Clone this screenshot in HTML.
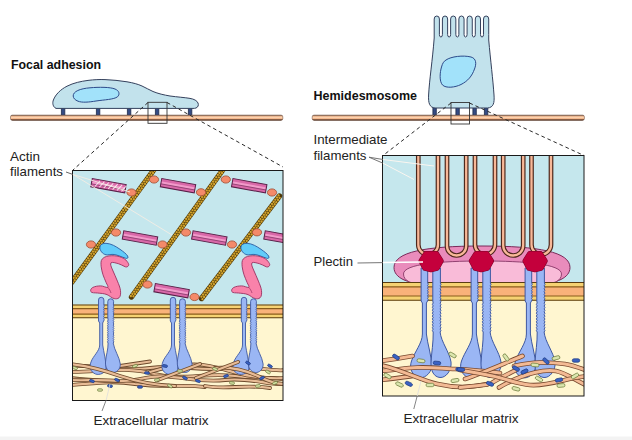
<!DOCTYPE html>
<html><head><meta charset="utf-8"><title>Focal adhesion / Hemidesmosome</title>
<style>
html,body{margin:0;padding:0;background:#fff;}
body{width:632px;height:440px;overflow:hidden;}
svg{display:block;}
text{font-family:"Liberation Sans",sans-serif;font-size:13px;fill:#222;}
.b{font-weight:bold;fill:#111;}
</style></head><body>
<svg width="632" height="440" viewBox="0 0 632 440">
<rect width="632" height="440" fill="#fff"/>
<defs>
<linearGradient id="bg" x1="0" y1="0" x2="0" y2="1">
<stop offset="0" stop-color="#8a766a"/><stop offset="0.2" stop-color="#e8ae88"/><stop offset="0.45" stop-color="#fbd2ae"/><stop offset="0.72" stop-color="#f2ae82"/><stop offset="0.86" stop-color="#6e4836"/><stop offset="1" stop-color="#563626"/>
</linearGradient>
<clipPath id="cl"><rect x="73" y="170" width="210" height="230"/></clipPath>
<clipPath id="cr"><rect x="383" y="156" width="201" height="240"/></clipPath>
</defs>

<g id="topleft">
<rect x="61.4" y="106.5" width="3.4" height="10" rx="1.2" fill="#354c84" stroke="#1c2848" stroke-width="0.8"/>
<rect x="96.4" y="106.5" width="3.4" height="10" rx="1.2" fill="#354c84" stroke="#1c2848" stroke-width="0.8"/>
<rect x="127.4" y="106.5" width="3.4" height="10" rx="1.2" fill="#354c84" stroke="#1c2848" stroke-width="0.8"/>
<rect x="155.4" y="106.5" width="3.4" height="10" rx="1.2" fill="#354c84" stroke="#1c2848" stroke-width="0.8"/>
<rect x="188.4" y="106.5" width="3.4" height="10" rx="1.2" fill="#354c84" stroke="#1c2848" stroke-width="0.8"/>
<rect x="10.5" y="115.1" width="272.3" height="5.3" rx="1.8" fill="url(#bg)" stroke="#5a3a2a" stroke-width="0.5"/>
<path d="M56,108.4 C52.8,106.8 52.2,103 53.4,100 C55.5,94.5 60.5,89.5 67,86.2 C73.5,82.9 81,81.3 88,80.4 C94,79.6 100,79.4 105,79.6 C112,79.9 120,80.6 127,81.8 C133,82.8 138,84.2 142,86 C146,87.8 149,89.8 153,91.5 C158,93.6 164,95 170,96 C177,97 185,97.5 190,98.4 C194,99.1 197,100.6 198,103 C198.9,105.2 198,107.2 196,108 C195,108.4 194,108.4 193,108.4 Z" fill="#c2e2ec" stroke="#34405c" stroke-width="1"/>
<path d="M73.2,96 C73,91.5 80,88.6 90,87.8 C99,87 110,87 115,89 C119.5,90.8 120,94.5 117.5,96.8 C114,99.5 104,99.8 96,101 C89,102.2 82,102.8 78,101.2 C75,100 73.3,98.2 73.2,96 Z" fill="#a2e2fa" stroke="#2c4a8a" stroke-width="1"/>
<rect x="148" y="102.3" width="19" height="21" fill="none" stroke="#333" stroke-width="0.9"/>
<path d="M148,102.5 L73,170 M167,102.5 L283,167" fill="none" stroke="#2a2a2a" stroke-width="1" stroke-dasharray="3.6 3"/>
</g>
<g id="topright">
<rect x="432.9" y="106" width="3.4" height="10.5" rx="1.2" fill="#354c84" stroke="#1c2848" stroke-width="0.8"/>
<rect x="455.9" y="106" width="3.4" height="10.5" rx="1.2" fill="#354c84" stroke="#1c2848" stroke-width="0.8"/>
<rect x="472.9" y="106" width="3.4" height="10.5" rx="1.2" fill="#354c84" stroke="#1c2848" stroke-width="0.8"/>
<rect x="484.4" y="106" width="3.4" height="10.5" rx="1.2" fill="#354c84" stroke="#1c2848" stroke-width="0.8"/>
<rect x="312.2" y="115.1" width="272.2" height="5.3" rx="1.8" fill="url(#bg)" stroke="#5a3a2a" stroke-width="0.5"/>
<path d="M434.20,38 L434.20,19 Q434.20,16 436.80,16 Q439.40,16 439.40,19 L439.40,34.5 Q439.40,37 440.91,37 Q442.42,37 442.42,34.5 L442.42,19 Q442.42,16 445.02,16 Q447.62,16 447.62,19 L447.62,34.5 Q447.62,37 449.13,37 Q450.64,37 450.64,34.5 L450.64,19 Q450.64,16 453.24,16 Q455.84,16 455.84,19 L455.84,34.5 Q455.84,37 457.35,37 Q458.86,37 458.86,34.5 L458.86,19 Q458.86,16 461.46,16 Q464.06,16 464.06,19 L464.06,34.5 Q464.06,37 465.57,37 Q467.08,37 467.08,34.5 L467.08,19 Q467.08,16 469.68,16 Q472.28,16 472.28,19 L472.28,34.5 Q472.28,37 473.79,37 Q475.30,37 475.30,34.5 L475.30,19 Q475.30,16 477.90,16 Q480.50,16 480.50,19 L480.50,34.5 Q480.50,37 482.01,37 Q483.52,37 483.52,34.5 L483.52,19 Q483.52,16 486.12,16 Q488.72,16 488.72,19 L488.72,34.5 L488.72,40 C490.5,60 493,80 494,95 C494.6,103 493.5,107.5 487.5,108 L435,108 C429.5,107.5 428.2,103 428.6,95 C429.4,80 432.5,60 434.20,38 Z" fill="#c2e2ec" stroke="#34405c" stroke-width="1"/>
<path d="M446,60 C451,56.5 463,55 471,57 C476.5,58.5 476.5,64 474.5,69 C472,76 468,81 461,84.5 C455,87.5 446,88.5 442.5,85 C439,81 440,72 441.5,67 C442.5,63.5 443.5,61.5 446,60 Z" fill="#a2e2fa" stroke="#2c4a8a" stroke-width="1"/>
<rect x="451" y="102.5" width="18.5" height="21.5" fill="none" stroke="#333" stroke-width="0.9"/>
<path d="M451,103 L383,155.5 M469.5,103 L584,155.5" fill="none" stroke="#2a2a2a" stroke-width="1" stroke-dasharray="3.6 3"/>
</g>
<g id="leftpanel">
<rect x="73" y="170" width="210" height="230" fill="#fff6d0"/>
<rect x="73" y="170" width="210" height="137" fill="#c5e7ed"/>
<g clip-path="url(#cl)">
<line x1="154.5" y1="169" x2="72" y2="282" stroke="#503808" stroke-width="5.4" stroke-linecap="round"/>
<line x1="153.57" y1="168.32" x2="71.07" y2="281.32" stroke="#d2a42e" stroke-width="2.25" stroke-dasharray="0.01 2.7" stroke-dashoffset="0" stroke-linecap="round"/>
<line x1="155.43" y1="169.68" x2="72.93" y2="282.68" stroke="#d2a42e" stroke-width="2.25" stroke-dasharray="0.01 2.7" stroke-dashoffset="1.35" stroke-linecap="round"/>
<line x1="223.5" y1="169" x2="131.5" y2="297" stroke="#503808" stroke-width="5.4" stroke-linecap="round"/>
<line x1="222.57" y1="168.33" x2="130.57" y2="296.33" stroke="#d2a42e" stroke-width="2.25" stroke-dasharray="0.01 2.7" stroke-dashoffset="0" stroke-linecap="round"/>
<line x1="224.43" y1="169.67" x2="132.43" y2="297.67" stroke="#d2a42e" stroke-width="2.25" stroke-dasharray="0.01 2.7" stroke-dashoffset="1.35" stroke-linecap="round"/>
<line x1="279.5" y1="196" x2="201.5" y2="298.5" stroke="#503808" stroke-width="5.4" stroke-linecap="round"/>
<line x1="278.58" y1="195.30" x2="200.58" y2="297.80" stroke="#d2a42e" stroke-width="2.25" stroke-dasharray="0.01 2.7" stroke-dashoffset="0" stroke-linecap="round"/>
<line x1="280.42" y1="196.70" x2="202.42" y2="299.20" stroke="#d2a42e" stroke-width="2.25" stroke-dasharray="0.01 2.7" stroke-dashoffset="1.35" stroke-linecap="round"/>
<g transform="rotate(10.3 108.5 185.7)">
<rect x="91.25" y="181.5" width="34.5" height="8.4" fill="#d868a8" stroke="#5a2048" stroke-width="1"/>
<rect x="92.05" y="184.39999999999998" width="32.9" height="2.2" fill="#f29aca"/>
<line x1="91.25" y1="186.89999999999998" x2="125.75" y2="186.89999999999998" stroke="#5a2048" stroke-width="0.5"/>
<line x1="95.25" y1="188.89999999999998" x2="99.25" y2="182.5" stroke="#fff" stroke-width="1" opacity="0.8"/>
<line x1="99.75" y1="188.89999999999998" x2="103.75" y2="182.5" stroke="#fff" stroke-width="1" opacity="0.8"/>
<line x1="104.25" y1="188.89999999999998" x2="108.25" y2="182.5" stroke="#fff" stroke-width="1" opacity="0.8"/>
<line x1="108.75" y1="188.89999999999998" x2="112.75" y2="182.5" stroke="#fff" stroke-width="1" opacity="0.8"/>
<line x1="113.25" y1="188.89999999999998" x2="117.25" y2="182.5" stroke="#fff" stroke-width="1" opacity="0.8"/>
<line x1="117.75" y1="188.89999999999998" x2="121.75" y2="182.5" stroke="#fff" stroke-width="1" opacity="0.8"/>
<line x1="122.25" y1="188.89999999999998" x2="126.25" y2="182.5" stroke="#fff" stroke-width="1" opacity="0.8"/>
</g>
<ellipse cx="131.5" cy="192.5" rx="4.6" ry="3.6" fill="#f48a6a" stroke="#a04a30" stroke-width="0.8"/>
<ellipse cx="154" cy="179.5" rx="4.6" ry="3.6" fill="#f48a6a" stroke="#a04a30" stroke-width="0.8"/>
<g transform="rotate(10.3 178 185.7)">
<rect x="160.75" y="181.5" width="34.5" height="8.4" fill="#d868a8" stroke="#5a2048" stroke-width="1"/>
<rect x="161.55" y="184.39999999999998" width="32.9" height="2.2" fill="#f29aca"/>
<line x1="160.75" y1="186.89999999999998" x2="195.25" y2="186.89999999999998" stroke="#5a2048" stroke-width="0.5"/>
</g>
<ellipse cx="201" cy="192.3" rx="4.6" ry="3.6" fill="#f48a6a" stroke="#a04a30" stroke-width="0.8"/>
<ellipse cx="225.8" cy="179.5" rx="4.6" ry="3.6" fill="#f48a6a" stroke="#a04a30" stroke-width="0.8"/>
<g transform="rotate(10.3 249.2 185.7)">
<rect x="231.95" y="181.5" width="34.5" height="8.4" fill="#d868a8" stroke="#5a2048" stroke-width="1"/>
<rect x="232.75" y="184.39999999999998" width="32.9" height="2.2" fill="#f29aca"/>
<line x1="231.95" y1="186.89999999999998" x2="266.45" y2="186.89999999999998" stroke="#5a2048" stroke-width="0.5"/>
</g>
<ellipse cx="272" cy="192.5" rx="4.6" ry="3.6" fill="#f48a6a" stroke="#a04a30" stroke-width="0.8"/>
<ellipse cx="91" cy="244.5" rx="4.6" ry="3.6" fill="#f48a6a" stroke="#a04a30" stroke-width="0.8"/>
<ellipse cx="116" cy="232.5" rx="4.6" ry="3.6" fill="#f48a6a" stroke="#a04a30" stroke-width="0.8"/>
<g transform="rotate(10.3 140 238)">
<rect x="122.75" y="233.8" width="34.5" height="8.4" fill="#d868a8" stroke="#5a2048" stroke-width="1"/>
<rect x="123.55" y="236.7" width="32.9" height="2.2" fill="#f29aca"/>
<line x1="122.75" y1="239.2" x2="157.25" y2="239.2" stroke="#5a2048" stroke-width="0.5"/>
</g>
<ellipse cx="162.5" cy="244.5" rx="4.6" ry="3.6" fill="#f48a6a" stroke="#a04a30" stroke-width="0.8"/>
<ellipse cx="186" cy="232.5" rx="4.6" ry="3.6" fill="#f48a6a" stroke="#a04a30" stroke-width="0.8"/>
<g transform="rotate(10.3 209.3 238)">
<rect x="192.05" y="233.8" width="34.5" height="8.4" fill="#d868a8" stroke="#5a2048" stroke-width="1"/>
<rect x="192.85000000000002" y="236.7" width="32.9" height="2.2" fill="#f29aca"/>
<line x1="192.05" y1="239.2" x2="226.55" y2="239.2" stroke="#5a2048" stroke-width="0.5"/>
</g>
<ellipse cx="232" cy="244.5" rx="4.6" ry="3.6" fill="#f48a6a" stroke="#a04a30" stroke-width="0.8"/>
<ellipse cx="257" cy="232.3" rx="4.6" ry="3.6" fill="#f48a6a" stroke="#a04a30" stroke-width="0.8"/>
<g transform="rotate(10.3 281.5 238)">
<rect x="264.25" y="233.8" width="34.5" height="8.4" fill="#d868a8" stroke="#5a2048" stroke-width="1"/>
<rect x="265.05" y="236.7" width="32.9" height="2.2" fill="#f29aca"/>
<line x1="264.25" y1="239.2" x2="298.75" y2="239.2" stroke="#5a2048" stroke-width="0.5"/>
</g>
<ellipse cx="147.5" cy="284.5" rx="4.6" ry="3.6" fill="#f48a6a" stroke="#a04a30" stroke-width="0.8"/>
<g transform="rotate(10.3 171.6 290.7)">
<rect x="154.35" y="286.5" width="34.5" height="8.4" fill="#d868a8" stroke="#5a2048" stroke-width="1"/>
<rect x="155.15" y="289.4" width="32.9" height="2.2" fill="#f29aca"/>
<line x1="154.35" y1="291.9" x2="188.85" y2="291.9" stroke="#5a2048" stroke-width="0.5"/>
</g>
<ellipse cx="194.5" cy="297" rx="4.6" ry="3.6" fill="#f48a6a" stroke="#a04a30" stroke-width="0.8"/>
<path transform="translate(0 0)" d="M99.9,247 C100.2,244.3 103,243.2 106,243.3 C111,243.5 116,246.5 120,249.3 C123.5,251.8 126.5,254 127.6,256 C128.6,258 127.5,258.8 125.5,258.2 C121,256.8 117,254.6 113,254.4 C110,254.3 108,255.2 106,254.8 C102.5,254 99.6,250.5 99.9,247 Z" fill="#62ccfa" stroke="#2a5aa0" stroke-width="0.9"/>
<path transform="translate(0 0)" d="M102.3,258.9 C104.5,256.5 108,255.8 111.8,255.7 C115.5,255.6 118.5,256.2 121.3,257.3 C124,258.4 125.8,259.6 126.9,261.2 C128.2,263 129.2,264.3 128.5,265.6 C127.8,266.9 126.5,267.2 125.3,266.8 C122.8,265.9 120.8,264.2 118.2,263.6 C115.5,263 112.5,261.8 111,262.8 C109.8,263.8 111.5,267.5 112.6,270 C114.2,273.8 116,277.5 117.4,281.1 C118.7,284.4 120.2,287.5 120.5,290.7 C120.8,293.6 120.6,296.4 119,297.8 C117.6,299 115.8,298.9 114.2,298.6 C111.5,298 109.5,295.6 107,294.6 C104,293.4 100.5,293.4 97.5,293 C95,292.7 91.5,293.2 90.8,291.5 C90.2,290 91.2,288.3 92.7,287.5 C95,286.3 98,285.9 100.7,285.9 C103.2,285.9 105.8,287.6 107.8,287.5 C108.5,286.2 106.9,284.5 106.2,282.7 C105.2,280 103.8,277.4 103,274.8 C102.2,272.2 101.5,269.5 101.2,266.8 C100.9,264 100.6,260.8 102.3,258.9 Z" fill="#f982aa" stroke="#9a3060" stroke-width="0.9"/>
<path transform="translate(0 0)" d="M107.8,287.5 C109.2,288.8 110.4,291 111,293" fill="none" stroke="#9a3060" stroke-width="0.7"/>
<path transform="translate(141 0)" d="M99.9,247 C100.2,244.3 103,243.2 106,243.3 C111,243.5 116,246.5 120,249.3 C123.5,251.8 126.5,254 127.6,256 C128.6,258 127.5,258.8 125.5,258.2 C121,256.8 117,254.6 113,254.4 C110,254.3 108,255.2 106,254.8 C102.5,254 99.6,250.5 99.9,247 Z" fill="#62ccfa" stroke="#2a5aa0" stroke-width="0.9"/>
<path transform="translate(141 0)" d="M102.3,258.9 C104.5,256.5 108,255.8 111.8,255.7 C115.5,255.6 118.5,256.2 121.3,257.3 C124,258.4 125.8,259.6 126.9,261.2 C128.2,263 129.2,264.3 128.5,265.6 C127.8,266.9 126.5,267.2 125.3,266.8 C122.8,265.9 120.8,264.2 118.2,263.6 C115.5,263 112.5,261.8 111,262.8 C109.8,263.8 111.5,267.5 112.6,270 C114.2,273.8 116,277.5 117.4,281.1 C118.7,284.4 120.2,287.5 120.5,290.7 C120.8,293.6 120.6,296.4 119,297.8 C117.6,299 115.8,298.9 114.2,298.6 C111.5,298 109.5,295.6 107,294.6 C104,293.4 100.5,293.4 97.5,293 C95,292.7 91.5,293.2 90.8,291.5 C90.2,290 91.2,288.3 92.7,287.5 C95,286.3 98,285.9 100.7,285.9 C103.2,285.9 105.8,287.6 107.8,287.5 C108.5,286.2 106.9,284.5 106.2,282.7 C105.2,280 103.8,277.4 103,274.8 C102.2,272.2 101.5,269.5 101.2,266.8 C100.9,264 100.6,260.8 102.3,258.9 Z" fill="#f982aa" stroke="#9a3060" stroke-width="0.9"/>
<path transform="translate(141 0)" d="M107.8,287.5 C109.2,288.8 110.4,291 111,293" fill="none" stroke="#9a3060" stroke-width="0.7"/>
<rect x="73" y="304.7" width="210" height="13.300000000000011" fill="#f6d272"/>
<rect x="73" y="308.59999999999997" width="210" height="5.5000000000000115" fill="#f9b27a"/>
<line x1="73" y1="305.0" x2="283" y2="305.0" stroke="#5a3c12" stroke-width="1.1"/>
<line x1="73" y1="317.7" x2="283" y2="317.7" stroke="#5a3c12" stroke-width="1.1"/>
<line x1="73" y1="308.59999999999997" x2="283" y2="308.59999999999997" stroke="#8a5c1a" stroke-width="1.2"/>
<line x1="73" y1="314.1" x2="283" y2="314.1" stroke="#8a5c1a" stroke-width="1.2"/>
<path d="M70,366 C95,364 120,372 150,368 C180,364 200,372 230,368 C250,365 270,372 286,370" fill="none" stroke="#6e4a2c" stroke-width="3.8000000000000003" stroke-linecap="round"/>
<path d="M70,366 C95,364 120,372 150,368 C180,364 200,372 230,368 C250,365 270,372 286,370" fill="none" stroke="#e8bc96" stroke-width="2.2" stroke-linecap="round"/>
<path d="M70,372 C100,372 125,366 155,374 C185,381 205,372 235,376 C255,379 270,376 286,380" fill="none" stroke="#6e4a2c" stroke-width="3.8000000000000003" stroke-linecap="round"/>
<path d="M70,372 C100,372 125,366 155,374 C185,381 205,372 235,376 C255,379 270,376 286,380" fill="none" stroke="#e8bc96" stroke-width="2.2" stroke-linecap="round"/>
<path d="M70,385 C90,384 110,380 135,384 C165,388 185,384 205,387" fill="none" stroke="#6e4a2c" stroke-width="3.8000000000000003" stroke-linecap="round"/>
<path d="M70,385 C90,384 110,380 135,384 C165,388 185,384 205,387" fill="none" stroke="#e8bc96" stroke-width="2.2" stroke-linecap="round"/>
<path d="M150,372 C170,366 190,362 210,366 C230,370 250,380 286,378" fill="none" stroke="#6e4a2c" stroke-width="3.8000000000000003" stroke-linecap="round"/>
<path d="M150,372 C170,366 190,362 210,366 C230,370 250,380 286,378" fill="none" stroke="#e8bc96" stroke-width="2.2" stroke-linecap="round"/>
<path d="M120,366 L150,361.5" fill="none" stroke="#6e4a2c" stroke-width="3.8000000000000003" stroke-linecap="round"/>
<path d="M120,366 L150,361.5" fill="none" stroke="#e8bc96" stroke-width="2.2" stroke-linecap="round"/>
<path d="M205,386 C225,390 245,384 270,388" fill="none" stroke="#6e4a2c" stroke-width="3.8000000000000003" stroke-linecap="round"/>
<path d="M205,386 C225,390 245,384 270,388" fill="none" stroke="#e8bc96" stroke-width="2.2" stroke-linecap="round"/>
<path d="M70,378 C95,380 120,384 145,378 C170,372 195,384 225,380 C250,377 270,386 286,384" fill="none" stroke="#6e4a2c" stroke-width="3.8000000000000003" stroke-linecap="round"/>
<path d="M70,378 C95,380 120,384 145,378 C170,372 195,384 225,380 C250,377 270,386 286,384" fill="none" stroke="#e8bc96" stroke-width="2.2" stroke-linecap="round"/>
<path d="M98.5,300 Q98.5,297.3 101.2,297.3 Q103.9,297.3 103.9,300 L103.9,305 Q105.00,306.14 103.60,307.29 Q105.00,308.43 103.60,309.57 Q105.00,310.71 103.60,311.86 Q105.00,313.00 103.60,314.14 Q105.00,315.29 103.60,316.43 Q105.00,317.57 103.60,318.71 Q105.00,319.86 103.60,321.00 L102.7,323 L102.7,345 C103.7,352 106.3,362 106.1,368 C105.8,373 99.5,375.5 95.5,374 C90.5,372 89.0,367 91.0,362 C93.0,356 99.7,351 99.7,345 L99.7,323 L98.5,321 Z" fill="#9ab6f4" stroke="#3e58a2" stroke-width="0.9"/>
<path d="M107.8,301.5 Q107.8,298.8 110.7,298.8 Q113.60000000000001,298.8 113.60000000000001,301.5 L113.4,305 Q114.60,306.12 113.20,307.24 Q114.60,308.35 113.20,309.47 Q114.60,310.59 113.20,311.71 Q114.60,312.82 113.20,313.94 Q114.60,315.06 113.20,316.18 Q114.60,317.29 113.20,318.41 Q114.60,319.53 113.20,320.65 Q114.60,321.76 113.20,322.88 Q114.60,324.00 113.20,325.12 Q114.60,326.24 113.20,327.35 Q114.60,328.47 113.20,329.59 Q114.60,330.71 113.20,331.82 Q114.60,332.94 113.20,334.06 Q114.60,335.18 113.20,336.29 Q114.60,337.41 113.20,338.53 Q114.60,339.65 113.20,340.76 Q114.60,341.88 113.20,343.00 C114.2,350 119.5,357 120.3,364 C120.7,369 116.5,373 112.5,372.5 C108.0,372 105.2,368 105.5,362 C106.0,355 108.2,350 108.10000000000001,343 Q106.80,341.85 108.20,340.70 Q106.80,339.55 108.20,338.40 Q106.80,337.25 108.20,336.10 Q106.80,334.95 108.20,333.80 Q106.80,332.65 108.20,331.50 Q106.80,330.35 108.20,329.20 Q106.80,328.05 108.20,326.90 Q106.80,325.75 108.20,324.60 Q106.80,323.45 108.20,322.30 Q106.80,321.15 108.20,320.00 L107.8,318 Z" fill="#9ab6f4" stroke="#3e58a2" stroke-width="0.9"/>
<path d="M170.3,300 Q170.3,297.3 173.0,297.3 Q175.7,297.3 175.7,300 L175.7,305 Q176.80,306.14 175.40,307.29 Q176.80,308.43 175.40,309.57 Q176.80,310.71 175.40,311.86 Q176.80,313.00 175.40,314.14 Q176.80,315.29 175.40,316.43 Q176.80,317.57 175.40,318.71 Q176.80,319.86 175.40,321.00 L174.5,323 L174.5,345 C175.5,352 178.10000000000002,362 177.9,368 C177.60000000000002,373 171.3,375.5 167.3,374 C162.3,372 160.8,367 162.8,362 C164.8,356 171.5,351 171.5,345 L171.5,323 L170.3,321 Z" fill="#9ab6f4" stroke="#3e58a2" stroke-width="0.9"/>
<path d="M179.6,301.5 Q179.6,298.8 182.5,298.8 Q185.4,298.8 185.4,301.5 L185.2,305 Q186.40,306.12 185.00,307.24 Q186.40,308.35 185.00,309.47 Q186.40,310.59 185.00,311.71 Q186.40,312.82 185.00,313.94 Q186.40,315.06 185.00,316.18 Q186.40,317.29 185.00,318.41 Q186.40,319.53 185.00,320.65 Q186.40,321.76 185.00,322.88 Q186.40,324.00 185.00,325.12 Q186.40,326.24 185.00,327.35 Q186.40,328.47 185.00,329.59 Q186.40,330.71 185.00,331.82 Q186.40,332.94 185.00,334.06 Q186.40,335.18 185.00,336.29 Q186.40,337.41 185.00,338.53 Q186.40,339.65 185.00,340.76 Q186.40,341.88 185.00,343.00 C186.0,350 191.3,357 192.10000000000002,364 C192.5,369 188.3,373 184.3,372.5 C179.8,372 177.0,368 177.3,362 C177.8,355 180.0,350 179.9,343 Q178.60,341.85 180.00,340.70 Q178.60,339.55 180.00,338.40 Q178.60,337.25 180.00,336.10 Q178.60,334.95 180.00,333.80 Q178.60,332.65 180.00,331.50 Q178.60,330.35 180.00,329.20 Q178.60,328.05 180.00,326.90 Q178.60,325.75 180.00,324.60 Q178.60,323.45 180.00,322.30 Q178.60,321.15 180.00,320.00 L179.6,318 Z" fill="#9ab6f4" stroke="#3e58a2" stroke-width="0.9"/>
<path d="M241.3,300 Q241.3,297.3 244.0,297.3 Q246.7,297.3 246.7,300 L246.7,305 Q247.80,306.14 246.40,307.29 Q247.80,308.43 246.40,309.57 Q247.80,310.71 246.40,311.86 Q247.80,313.00 246.40,314.14 Q247.80,315.29 246.40,316.43 Q247.80,317.57 246.40,318.71 Q247.80,319.86 246.40,321.00 L245.5,323 L245.5,345 C246.5,352 249.10000000000002,362 248.9,368 C248.60000000000002,373 242.3,375.5 238.3,374 C233.3,372 231.8,367 233.8,362 C235.8,356 242.5,351 242.5,345 L242.5,323 L241.3,321 Z" fill="#9ab6f4" stroke="#3e58a2" stroke-width="0.9"/>
<path d="M250.6,301.5 Q250.6,298.8 253.5,298.8 Q256.4,298.8 256.4,301.5 L256.2,305 Q257.40,306.12 256.00,307.24 Q257.40,308.35 256.00,309.47 Q257.40,310.59 256.00,311.71 Q257.40,312.82 256.00,313.94 Q257.40,315.06 256.00,316.18 Q257.40,317.29 256.00,318.41 Q257.40,319.53 256.00,320.65 Q257.40,321.76 256.00,322.88 Q257.40,324.00 256.00,325.12 Q257.40,326.24 256.00,327.35 Q257.40,328.47 256.00,329.59 Q257.40,330.71 256.00,331.82 Q257.40,332.94 256.00,334.06 Q257.40,335.18 256.00,336.29 Q257.40,337.41 256.00,338.53 Q257.40,339.65 256.00,340.76 Q257.40,341.88 256.00,343.00 C257.0,350 262.3,357 263.1,364 C263.5,369 259.3,373 255.3,372.5 C250.8,372 248.0,368 248.3,362 C248.8,355 251.0,350 250.9,343 Q249.60,341.85 251.00,340.70 Q249.60,339.55 251.00,338.40 Q249.60,337.25 251.00,336.10 Q249.60,334.95 251.00,333.80 Q249.60,332.65 251.00,331.50 Q249.60,330.35 251.00,329.20 Q249.60,328.05 251.00,326.90 Q249.60,325.75 251.00,324.60 Q249.60,323.45 251.00,322.30 Q249.60,321.15 251.00,320.00 L250.6,318 Z" fill="#9ab6f4" stroke="#3e58a2" stroke-width="0.9"/>
<path d="M70,364 C90,366 105,371 120,376 C135,381 150,385 175,386" fill="none" stroke="#6e4a2c" stroke-width="3.8000000000000003" stroke-linecap="round"/>
<path d="M70,364 C90,366 105,371 120,376 C135,381 150,385 175,386" fill="none" stroke="#e8bc96" stroke-width="2.2" stroke-linecap="round"/>
<path d="M158,380 L200,364" fill="none" stroke="#6e4a2c" stroke-width="3.8000000000000003" stroke-linecap="round"/>
<path d="M158,380 L200,364" fill="none" stroke="#e8bc96" stroke-width="2.2" stroke-linecap="round"/>
<path d="M215,368 C235,366 250,372 262,378 C270,382 278,384 286,384" fill="none" stroke="#6e4a2c" stroke-width="3.8000000000000003" stroke-linecap="round"/>
<path d="M215,368 C235,366 250,372 262,378 C270,382 278,384 286,384" fill="none" stroke="#e8bc96" stroke-width="2.2" stroke-linecap="round"/>
<path d="M196,378 L238,362" fill="none" stroke="#6e4a2c" stroke-width="3.8000000000000003" stroke-linecap="round"/>
<path d="M196,378 L238,362" fill="none" stroke="#e8bc96" stroke-width="2.2" stroke-linecap="round"/>
<path d="M70,380 C85,381 100,379 118,381" fill="none" stroke="#6e4a2c" stroke-width="3.8000000000000003" stroke-linecap="round"/>
<path d="M70,380 C85,381 100,379 118,381" fill="none" stroke="#e8bc96" stroke-width="2.2" stroke-linecap="round"/>
<rect x="89.5" y="379.8" width="5" height="2.4" rx="1.2" transform="rotate(20 92 381)" fill="#3a62c4" stroke="#1e3a80" stroke-width="0.7"/>
<rect x="114.5" y="378.8" width="5" height="2.4" rx="1.2" transform="rotate(25 117 380)" fill="#3a62c4" stroke="#1e3a80" stroke-width="0.7"/>
<rect x="144.5" y="371.8" width="5" height="2.4" rx="1.2" transform="rotate(5 147 373)" fill="#3a62c4" stroke="#1e3a80" stroke-width="0.7"/>
<rect x="162.5" y="364.8" width="5" height="2.4" rx="1.2" transform="rotate(10 165 366)" fill="#3a62c4" stroke="#1e3a80" stroke-width="0.7"/>
<rect x="182.5" y="376.8" width="5" height="2.4" rx="1.2" transform="rotate(30 185 378)" fill="#3a62c4" stroke="#1e3a80" stroke-width="0.7"/>
<rect x="195.5" y="379.8" width="5" height="2.4" rx="1.2" transform="rotate(20 198 381)" fill="#3a62c4" stroke="#1e3a80" stroke-width="0.7"/>
<rect x="223.5" y="374.8" width="5" height="2.4" rx="1.2" transform="rotate(-20 226 376)" fill="#3a62c4" stroke="#1e3a80" stroke-width="0.7"/>
<rect x="245.5" y="361.8" width="5" height="2.4" rx="1.2" transform="rotate(30 248 363)" fill="#3a62c4" stroke="#1e3a80" stroke-width="0.7"/>
<rect x="259.5" y="376.8" width="5" height="2.4" rx="1.2" transform="rotate(-25 262 378)" fill="#3a62c4" stroke="#1e3a80" stroke-width="0.7"/>
<rect x="267.5" y="364.8" width="5" height="2.4" rx="1.2" transform="rotate(30 270 366)" fill="#3a62c4" stroke="#1e3a80" stroke-width="0.7"/>
<rect x="107.5" y="384.8" width="5" height="2.4" rx="1.2" transform="rotate(10 110 386)" fill="#3a62c4" stroke="#1e3a80" stroke-width="0.7"/>
<rect x="137.5" y="385.8" width="5" height="2.4" rx="1.2" transform="rotate(0 140 387)" fill="#3a62c4" stroke="#1e3a80" stroke-width="0.7"/>
<rect x="72.5" y="366.8" width="5" height="2.4" rx="1.2" transform="rotate(20 75 368)" fill="#d4e0a4" stroke="#6a7a3a" stroke-width="0.7"/>
<rect x="132.5" y="364.8" width="5" height="2.4" rx="1.2" transform="rotate(-20 135 366)" fill="#d4e0a4" stroke="#6a7a3a" stroke-width="0.7"/>
<rect x="154.5" y="378.8" width="5" height="2.4" rx="1.2" transform="rotate(-10 157 380)" fill="#d4e0a4" stroke="#6a7a3a" stroke-width="0.7"/>
<rect x="177.5" y="369.8" width="5" height="2.4" rx="1.2" transform="rotate(0 180 371)" fill="#d4e0a4" stroke="#6a7a3a" stroke-width="0.7"/>
<rect x="212.5" y="367.8" width="5" height="2.4" rx="1.2" transform="rotate(20 215 369)" fill="#d4e0a4" stroke="#6a7a3a" stroke-width="0.7"/>
<rect x="229.5" y="381.8" width="5" height="2.4" rx="1.2" transform="rotate(10 232 383)" fill="#d4e0a4" stroke="#6a7a3a" stroke-width="0.7"/>
<rect x="255.5" y="384.8" width="5" height="2.4" rx="1.2" transform="rotate(-10 258 386)" fill="#d4e0a4" stroke="#6a7a3a" stroke-width="0.7"/>
<rect x="265.5" y="370.8" width="5" height="2.4" rx="1.2" transform="rotate(30 268 372)" fill="#d4e0a4" stroke="#6a7a3a" stroke-width="0.7"/>
<rect x="272.5" y="381.8" width="5" height="2.4" rx="1.2" transform="rotate(-20 275 383)" fill="#d4e0a4" stroke="#6a7a3a" stroke-width="0.7"/>
<rect x="97.5" y="388.8" width="5" height="2.4" rx="1.2" transform="rotate(0 100 390)" fill="#d4e0a4" stroke="#6a7a3a" stroke-width="0.7"/>
<rect x="167.5" y="384.8" width="5" height="2.4" rx="1.2" transform="rotate(30 170 386)" fill="#d4e0a4" stroke="#6a7a3a" stroke-width="0.7"/>
</g>
<rect x="72.5" y="170.5" width="210.5" height="230" fill="none" stroke="#1a1a1a" stroke-width="1"/>
</g>
<g id="rightpanel">
<rect x="383" y="156" width="201" height="240" fill="#fff6d0"/>
<rect x="383" y="156" width="201" height="128" fill="#c5e7ed"/>
<g clip-path="url(#cr)">
<path d="M394,267.5 C394,252 425,246 482,246 C539,246 570,252 570,267.5 C570,278 556,283.5 540,283.5 L424,283.5 C408,283.5 394,278 394,267.5 Z" fill="#e98cbc" stroke="#7a2a5a" stroke-width="1"/>
<path d="M403.5,274 C403.5,264 440,261 482.5,261 C525,261 561.5,264 561.5,274 C561.5,281 553,284 545,284 L420,284 C412,284 403.5,281 403.5,274 Z" fill="#f9bbd8" stroke="#7a2a5a" stroke-width="0.8"/>
<path d="M418.3,150 L418.3,244.65 A9.849999999999994,9.849999999999994 0 0 0 438,244.65 L438,150" fill="none" stroke="#4e281c" stroke-width="4.7"/>
<path d="M418.3,150 L418.3,244.65 A9.849999999999994,9.849999999999994 0 0 0 438,244.65 L438,150" fill="none" stroke="#f8b898" stroke-width="2.3"/>
<path d="M447,150 L447,245.9 A9.599999999999994,9.599999999999994 0 0 0 466.2,245.9 L466.2,150" fill="none" stroke="#4e281c" stroke-width="4.7"/>
<path d="M447,150 L447,245.9 A9.599999999999994,9.599999999999994 0 0 0 466.2,245.9 L466.2,150" fill="none" stroke="#f8b898" stroke-width="2.3"/>
<path d="M475,150 L475,244.5 A10.0,10.0 0 0 0 495,244.5 L495,150" fill="none" stroke="#4e281c" stroke-width="4.7"/>
<path d="M475,150 L475,244.5 A10.0,10.0 0 0 0 495,244.5 L495,150" fill="none" stroke="#f8b898" stroke-width="2.3"/>
<path d="M503.2,150 L503.2,245.49999999999997 A10.000000000000028,10.000000000000028 0 0 0 523.2,245.49999999999997 L523.2,150" fill="none" stroke="#4e281c" stroke-width="4.7"/>
<path d="M503.2,150 L503.2,245.49999999999997 A10.000000000000028,10.000000000000028 0 0 0 523.2,245.49999999999997 L523.2,150" fill="none" stroke="#f8b898" stroke-width="2.3"/>
<path d="M531.5,150 L531.5,244.75 A9.75,9.75 0 0 0 551,244.75 L551,150" fill="none" stroke="#4e281c" stroke-width="4.7"/>
<path d="M531.5,150 L531.5,244.75 A9.75,9.75 0 0 0 551,244.75 L551,150" fill="none" stroke="#f8b898" stroke-width="2.3"/>
<rect x="383" y="282.2" width="201" height="18.400000000000034" fill="#f6d272"/>
<rect x="383" y="286.8" width="201" height="9.200000000000035" fill="#f9b27a"/>
<line x1="383" y1="282.5" x2="584" y2="282.5" stroke="#5a3c12" stroke-width="1.1"/>
<line x1="383" y1="300.3" x2="584" y2="300.3" stroke="#5a3c12" stroke-width="1.1"/>
<line x1="383" y1="286.8" x2="584" y2="286.8" stroke="#8a5c1a" stroke-width="1.2"/>
<line x1="383" y1="296.0" x2="584" y2="296.0" stroke="#8a5c1a" stroke-width="1.2"/>
<path d="M421.09999999999997,268 L427.7,268 L427.7,283 Q429.10,284.29 427.50,285.57 Q429.10,286.86 427.50,288.14 Q429.10,289.43 427.50,290.71 Q429.10,292.00 427.50,293.29 Q429.10,294.57 427.50,295.86 Q429.10,297.14 427.50,298.43 Q429.10,299.71 427.50,301.00 L426.4,303 L426.4,334 C427.4,344 431.8,356 431.6,366 C431.4,374 423,379.5 418,377.5 C412,375 409,368 411.5,361 C414.5,352 422.4,343 422.4,334 L422.4,303 L421.09999999999997,301 Z" fill="#9ab6f4" stroke="#3e58a2" stroke-width="1"/>
<path d="M432.8,268 L440.40000000000003,268 L440.40000000000003,283 Q441.80,284.44 440.10,285.88 Q441.80,287.32 440.10,288.76 Q441.80,290.21 440.10,291.65 Q441.80,293.09 440.10,294.53 Q441.80,295.97 440.10,297.41 Q441.80,298.85 440.10,300.29 Q441.80,301.74 440.10,303.18 Q441.80,304.62 440.10,306.06 Q441.80,307.50 440.10,308.94 Q441.80,310.38 440.10,311.82 Q441.80,313.26 440.10,314.71 Q441.80,316.15 440.10,317.59 Q441.80,319.03 440.10,320.47 Q441.80,321.91 440.10,323.35 Q441.80,324.79 440.10,326.24 Q441.80,327.68 440.10,329.12 Q441.80,330.56 440.10,332.00 C441.1,342 449.5,352 451,362 C452,370 446,378 440,377.5 C434,377 430.7,371 431,363 C431.5,352 433.40000000000003,343 433.20000000000005,332 Q431.50,330.55 433.20,329.10 Q431.50,327.65 433.20,326.20 Q431.50,324.75 433.20,323.30 Q431.50,321.85 433.20,320.40 Q431.50,318.95 433.20,317.50 Q431.50,316.05 433.20,314.60 Q431.50,313.15 433.20,311.70 Q431.50,310.25 433.20,308.80 Q431.50,307.35 433.20,305.90 Q431.50,304.45 433.20,303.00 L432.8,301 Z" fill="#9ab6f4" stroke="#3e58a2" stroke-width="1"/>
<path d="M471.09999999999997,268 L477.7,268 L477.7,283 Q479.10,284.29 477.50,285.57 Q479.10,286.86 477.50,288.14 Q479.10,289.43 477.50,290.71 Q479.10,292.00 477.50,293.29 Q479.10,294.57 477.50,295.86 Q479.10,297.14 477.50,298.43 Q479.10,299.71 477.50,301.00 L476.4,303 L476.4,334 C477.4,344 481.8,356 481.6,366 C481.4,374 473,379.5 468,377.5 C462,375 459,368 461.5,361 C464.5,352 472.4,343 472.4,334 L472.4,303 L471.09999999999997,301 Z" fill="#9ab6f4" stroke="#3e58a2" stroke-width="1"/>
<path d="M482.8,268 L490.40000000000003,268 L490.40000000000003,283 Q491.80,284.44 490.10,285.88 Q491.80,287.32 490.10,288.76 Q491.80,290.21 490.10,291.65 Q491.80,293.09 490.10,294.53 Q491.80,295.97 490.10,297.41 Q491.80,298.85 490.10,300.29 Q491.80,301.74 490.10,303.18 Q491.80,304.62 490.10,306.06 Q491.80,307.50 490.10,308.94 Q491.80,310.38 490.10,311.82 Q491.80,313.26 490.10,314.71 Q491.80,316.15 490.10,317.59 Q491.80,319.03 490.10,320.47 Q491.80,321.91 490.10,323.35 Q491.80,324.79 490.10,326.24 Q491.80,327.68 490.10,329.12 Q491.80,330.56 490.10,332.00 C491.1,342 499.5,352 501,362 C502,370 496,378 490,377.5 C484,377 480.7,371 481,363 C481.5,352 483.40000000000003,343 483.20000000000005,332 Q481.50,330.55 483.20,329.10 Q481.50,327.65 483.20,326.20 Q481.50,324.75 483.20,323.30 Q481.50,321.85 483.20,320.40 Q481.50,318.95 483.20,317.50 Q481.50,316.05 483.20,314.60 Q481.50,313.15 483.20,311.70 Q481.50,310.25 483.20,308.80 Q481.50,307.35 483.20,305.90 Q481.50,304.45 483.20,303.00 L482.8,301 Z" fill="#9ab6f4" stroke="#3e58a2" stroke-width="1"/>
<path d="M525.1,268 L531.6999999999999,268 L531.6999999999999,283 Q533.10,284.29 531.50,285.57 Q533.10,286.86 531.50,288.14 Q533.10,289.43 531.50,290.71 Q533.10,292.00 531.50,293.29 Q533.10,294.57 531.50,295.86 Q533.10,297.14 531.50,298.43 Q533.10,299.71 531.50,301.00 L530.4,303 L530.4,334 C531.4,344 535.8,356 535.6,366 C535.4,374 527,379.5 522,377.5 C516,375 513,368 515.5,361 C518.5,352 526.4,343 526.4,334 L526.4,303 L525.1,301 Z" fill="#9ab6f4" stroke="#3e58a2" stroke-width="1"/>
<path d="M536.8000000000001,268 L544.4,268 L544.4,283 Q545.80,284.44 544.10,285.88 Q545.80,287.32 544.10,288.76 Q545.80,290.21 544.10,291.65 Q545.80,293.09 544.10,294.53 Q545.80,295.97 544.10,297.41 Q545.80,298.85 544.10,300.29 Q545.80,301.74 544.10,303.18 Q545.80,304.62 544.10,306.06 Q545.80,307.50 544.10,308.94 Q545.80,310.38 544.10,311.82 Q545.80,313.26 544.10,314.71 Q545.80,316.15 544.10,317.59 Q545.80,319.03 544.10,320.47 Q545.80,321.91 544.10,323.35 Q545.80,324.79 544.10,326.24 Q545.80,327.68 544.10,329.12 Q545.80,330.56 544.10,332.00 C545.1,342 553.5,352 555,362 C556,370 550,378 544,377.5 C538,377 534.7,371 535,363 C535.5,352 537.4,343 537.2,332 Q535.50,330.55 537.20,329.10 Q535.50,327.65 537.20,326.20 Q535.50,324.75 537.20,323.30 Q535.50,321.85 537.20,320.40 Q535.50,318.95 537.20,317.50 Q535.50,316.05 537.20,314.60 Q535.50,313.15 537.20,311.70 Q535.50,310.25 537.20,308.80 Q535.50,307.35 537.20,305.90 Q535.50,304.45 537.20,303.00 L536.8000000000001,301 Z" fill="#9ab6f4" stroke="#3e58a2" stroke-width="1"/>
<polygon points="421.2,261.0 425.8,253.6 436.4,253.6 441.0,261.0 437.0,268.2 431.0,269.6 425.0,268.2" fill="#7a0028" stroke="#7a0028" stroke-width="5.4" stroke-linejoin="round"/>
<polygon points="421.2,261.0 425.8,253.6 436.4,253.6 441.0,261.0 437.0,268.2 431.0,269.6 425.0,268.2" fill="#c4003c" stroke="#c4003c" stroke-width="4.4" stroke-linejoin="round"/>
<polygon points="471.5,261.0 476.1,253.6 486.7,253.6 491.3,261.0 487.3,268.2 481.3,269.6 475.3,268.2" fill="#7a0028" stroke="#7a0028" stroke-width="5.4" stroke-linejoin="round"/>
<polygon points="471.5,261.0 476.1,253.6 486.7,253.6 491.3,261.0 487.3,268.2 481.3,269.6 475.3,268.2" fill="#c4003c" stroke="#c4003c" stroke-width="4.4" stroke-linejoin="round"/>
<polygon points="525.2,261.0 529.8,253.6 540.4,253.6 545.0,261.0 541.0,268.2 535.0,269.6 529.0,268.2" fill="#7a0028" stroke="#7a0028" stroke-width="5.4" stroke-linejoin="round"/>
<polygon points="525.2,261.0 529.8,253.6 540.4,253.6 545.0,261.0 541.0,268.2 535.0,269.6 529.0,268.2" fill="#c4003c" stroke="#c4003c" stroke-width="4.4" stroke-linejoin="round"/>
<path d="M380,361 C392,359.5 402,358 412.5,356" fill="none" stroke="#7a4a30" stroke-width="4.6" stroke-linecap="round"/>
<path d="M380,361 C392,359.5 402,358 412.5,356" fill="none" stroke="#f3ba94" stroke-width="3.0" stroke-linecap="round"/>
<path d="M380,380 C392,379 402,377.5 412.5,376" fill="none" stroke="#7a4a30" stroke-width="4.6" stroke-linecap="round"/>
<path d="M380,380 C392,379 402,377.5 412.5,376" fill="none" stroke="#f3ba94" stroke-width="3.0" stroke-linecap="round"/>
<path d="M380,371 C395,370 405,368 417.5,367.5 C432,367 442,368.5 455,369 C468,369.5 485,371 500,373" fill="none" stroke="#7a4a30" stroke-width="4.6" stroke-linecap="round"/>
<path d="M380,371 C395,370 405,368 417.5,367.5 C432,367 442,368.5 455,369 C468,369.5 485,371 500,373" fill="none" stroke="#f3ba94" stroke-width="3.0" stroke-linecap="round"/>
<path d="M380,365 C400,369 420,380 437.5,384 C447,386.2 455,387 462.5,387 C472,387 480,385.5 487.5,384" fill="none" stroke="#7a4a30" stroke-width="4.6" stroke-linecap="round"/>
<path d="M380,365 C400,369 420,380 437.5,384 C447,386.2 455,387 462.5,387 C472,387 480,385.5 487.5,384" fill="none" stroke="#f3ba94" stroke-width="3.0" stroke-linecap="round"/>
<path d="M460,387.5 C470,386.5 480,385.5 487.5,384.5" fill="none" stroke="#7a4a30" stroke-width="4.6" stroke-linecap="round"/>
<path d="M460,387.5 C470,386.5 480,385.5 487.5,384.5" fill="none" stroke="#f3ba94" stroke-width="3.0" stroke-linecap="round"/>
<path d="M465,379 C485,372 505,363 522.5,356" fill="none" stroke="#7a4a30" stroke-width="4.6" stroke-linecap="round"/>
<path d="M465,379 C485,372 505,363 522.5,356" fill="none" stroke="#f3ba94" stroke-width="3.0" stroke-linecap="round"/>
<path d="M492.5,382.5 C500,378 508,374 516,370" fill="none" stroke="#7a4a30" stroke-width="4.6" stroke-linecap="round"/>
<path d="M492.5,382.5 C500,378 508,374 516,370" fill="none" stroke="#f3ba94" stroke-width="3.0" stroke-linecap="round"/>
<path d="M499,387.5 C510,381 522,375.5 535,372.5 C543,370.6 550,370 556,371 C566,372.8 576,381 588,386" fill="none" stroke="#7a4a30" stroke-width="4.6" stroke-linecap="round"/>
<path d="M499,387.5 C510,381 522,375.5 535,372.5 C543,370.6 550,370 556,371 C566,372.8 576,381 588,386" fill="none" stroke="#f3ba94" stroke-width="3.0" stroke-linecap="round"/>
<path d="M514,366 C523,364 531,362.6 540,362.5 C550,362.4 558,363 565,364 C573,365.2 580,368 588,371" fill="none" stroke="#7a4a30" stroke-width="4.6" stroke-linecap="round"/>
<path d="M514,366 C523,364 531,362.6 540,362.5 C550,362.4 558,363 565,364 C573,365.2 580,368 588,371" fill="none" stroke="#f3ba94" stroke-width="3.0" stroke-linecap="round"/>
<path d="M460,370 C472,372 482,374 492.5,376 C505,378.5 518,384 530,385 C542,386 555,382.5 565,380 C573,378 580,377 588,376" fill="none" stroke="#7a4a30" stroke-width="4.6" stroke-linecap="round"/>
<path d="M460,370 C472,372 482,374 492.5,376 C505,378.5 518,384 530,385 C542,386 555,382.5 565,380 C573,378 580,377 588,376" fill="none" stroke="#f3ba94" stroke-width="3.0" stroke-linecap="round"/>
<rect x="392.25" y="355.3" width="7.5" height="3.4" rx="1.7" transform="rotate(35 396 357)" fill="#3a62c4" stroke="#1e3a80" stroke-width="0.7"/>
<rect x="405.05" y="382.1" width="7.5" height="3.4" rx="1.7" transform="rotate(25 408.8 383.8)" fill="#3a62c4" stroke="#1e3a80" stroke-width="0.7"/>
<rect x="433.25" y="361.3" width="7.5" height="3.4" rx="1.7" transform="rotate(5 437 363)" fill="#3a62c4" stroke="#1e3a80" stroke-width="0.7"/>
<rect x="455.75" y="367.8" width="7.5" height="3.4" rx="1.7" transform="rotate(8 459.5 369.5)" fill="#3a62c4" stroke="#1e3a80" stroke-width="0.7"/>
<rect x="486.25" y="382.1" width="7.5" height="3.4" rx="1.7" transform="rotate(22 490 383.8)" fill="#3a62c4" stroke="#1e3a80" stroke-width="0.7"/>
<rect x="512.25" y="366.8" width="7.5" height="3.4" rx="1.7" transform="rotate(30 516 368.5)" fill="#3a62c4" stroke="#1e3a80" stroke-width="0.7"/>
<rect x="520.75" y="369.8" width="7.5" height="3.4" rx="1.7" transform="rotate(-25 524.5 371.5)" fill="#3a62c4" stroke="#1e3a80" stroke-width="0.7"/>
<rect x="542.25" y="359.3" width="7.5" height="3.4" rx="1.7" transform="rotate(45 546 361)" fill="#3a62c4" stroke="#1e3a80" stroke-width="0.7"/>
<rect x="572.25" y="358.8" width="7.5" height="3.4" rx="1.7" transform="rotate(0 576 360.5)" fill="#3a62c4" stroke="#1e3a80" stroke-width="0.7"/>
<rect x="555.25" y="378.3" width="7.5" height="3.4" rx="1.7" transform="rotate(-12 559 380)" fill="#3a62c4" stroke="#1e3a80" stroke-width="0.7"/>
<rect x="457.25" y="367.8" width="7.5" height="3.4" rx="1.7" transform="rotate(5 461 369.5)" fill="#3a62c4" stroke="#1e3a80" stroke-width="0.7"/>
<rect x="383.5" y="374.3" width="8" height="3.4" rx="1.7" transform="rotate(30 387.5 376)" fill="#dbe6ae" stroke="#6a7a3a" stroke-width="0.7"/>
<rect x="417.0" y="359.1" width="8" height="3.4" rx="1.7" transform="rotate(8 421 360.8)" fill="#dbe6ae" stroke="#6a7a3a" stroke-width="0.7"/>
<rect x="395.5" y="382.8" width="8" height="3.4" rx="1.7" transform="rotate(25 399.5 384.5)" fill="#dbe6ae" stroke="#6a7a3a" stroke-width="0.7"/>
<rect x="426.0" y="383.3" width="8" height="3.4" rx="1.7" transform="rotate(0 430 385)" fill="#dbe6ae" stroke="#6a7a3a" stroke-width="0.7"/>
<rect x="448.5" y="353.3" width="8" height="3.4" rx="1.7" transform="rotate(30 452.5 355)" fill="#dbe6ae" stroke="#6a7a3a" stroke-width="0.7"/>
<rect x="451.0" y="378.8" width="8" height="3.4" rx="1.7" transform="rotate(-10 455 380.5)" fill="#dbe6ae" stroke="#6a7a3a" stroke-width="0.7"/>
<rect x="502.0" y="355.8" width="8" height="3.4" rx="1.7" transform="rotate(55 506 357.5)" fill="#dbe6ae" stroke="#6a7a3a" stroke-width="0.7"/>
<rect x="512.0" y="387.1" width="8" height="3.4" rx="1.7" transform="rotate(15 516 388.8)" fill="#dbe6ae" stroke="#6a7a3a" stroke-width="0.7"/>
<rect x="552.0" y="356.3" width="8" height="3.4" rx="1.7" transform="rotate(-15 556 358)" fill="#dbe6ae" stroke="#6a7a3a" stroke-width="0.7"/>
<rect x="531.0" y="363.3" width="8" height="3.4" rx="1.7" transform="rotate(5 535 365)" fill="#dbe6ae" stroke="#6a7a3a" stroke-width="0.7"/>
<rect x="571.0" y="374.3" width="8" height="3.4" rx="1.7" transform="rotate(-30 575 376)" fill="#dbe6ae" stroke="#6a7a3a" stroke-width="0.7"/>
<rect x="557.0" y="383.8" width="8" height="3.4" rx="1.7" transform="rotate(-5 561 385.5)" fill="#dbe6ae" stroke="#6a7a3a" stroke-width="0.7"/>
<rect x="535.0" y="377.3" width="8" height="3.4" rx="1.7" transform="rotate(30 539 379)" fill="#dbe6ae" stroke="#6a7a3a" stroke-width="0.7"/>
</g>
<rect x="382.5" y="155.5" width="201.5" height="240.5" fill="none" stroke="#1a1a1a" stroke-width="1"/>
</g>
<g id="labels">
<text x="11" y="68.5" textLength="90" lengthAdjust="spacingAndGlyphs" class="b">Focal adhesion</text>
<text x="313.5" y="100.3" textLength="103.5" lengthAdjust="spacingAndGlyphs" class="b">Hemidesmosome</text>
<text x="10" y="160.5" textLength="30" lengthAdjust="spacingAndGlyphs">Actin</text>
<text x="10" y="176" textLength="53" lengthAdjust="spacingAndGlyphs">filaments</text>
<text x="313.5" y="143.8" textLength="74" lengthAdjust="spacingAndGlyphs">Intermediate</text>
<text x="313.5" y="160" textLength="53" lengthAdjust="spacingAndGlyphs">filaments</text>
<text x="313.5" y="266.3" textLength="39.5" lengthAdjust="spacingAndGlyphs">Plectin</text>
<text x="93.5" y="425" textLength="115" lengthAdjust="spacingAndGlyphs">Extracellular matrix</text>
<text x="403.5" y="422.5" textLength="115" lengthAdjust="spacingAndGlyphs">Extracellular matrix</text>
<path d="M66,172 L73,174.5" stroke="#555" stroke-width="0.9" fill="none"/>
<path d="M73,174.5 L130,192 M73,174.5 L172,235" stroke="#f4ede4" stroke-width="0.9" fill="none"/>
<path d="M369,157.2 L383,159.5 M369,157.2 L383,163.2" stroke="#666" stroke-width="0.9" fill="none"/>
<path d="M383,159.5 L434,166 M383,163.2 L414,179.5" stroke="#fbf6f0" stroke-width="1" fill="none"/>
<path d="M357.5,263 L383,262.6" stroke="#666" stroke-width="0.9" fill="none"/>
<path d="M383,262.5 L423,262" stroke="#fff" stroke-width="1.5" fill="none"/>
<path d="M102,411 L106.2,400" stroke="#666" stroke-width="0.8" fill="none"/>
<path d="M106.2,400 L110,384" stroke="#ddd" stroke-width="0.8" fill="none"/>
<path d="M413.8,409 L417.2,396" stroke="#666" stroke-width="0.8" fill="none"/>
<path d="M417.2,396 L421,381" stroke="#ddd" stroke-width="0.8" fill="none"/>
</g>
<rect x="0" y="436.5" width="632" height="3.5" fill="#f3f3f3"/>
</svg></body></html>
